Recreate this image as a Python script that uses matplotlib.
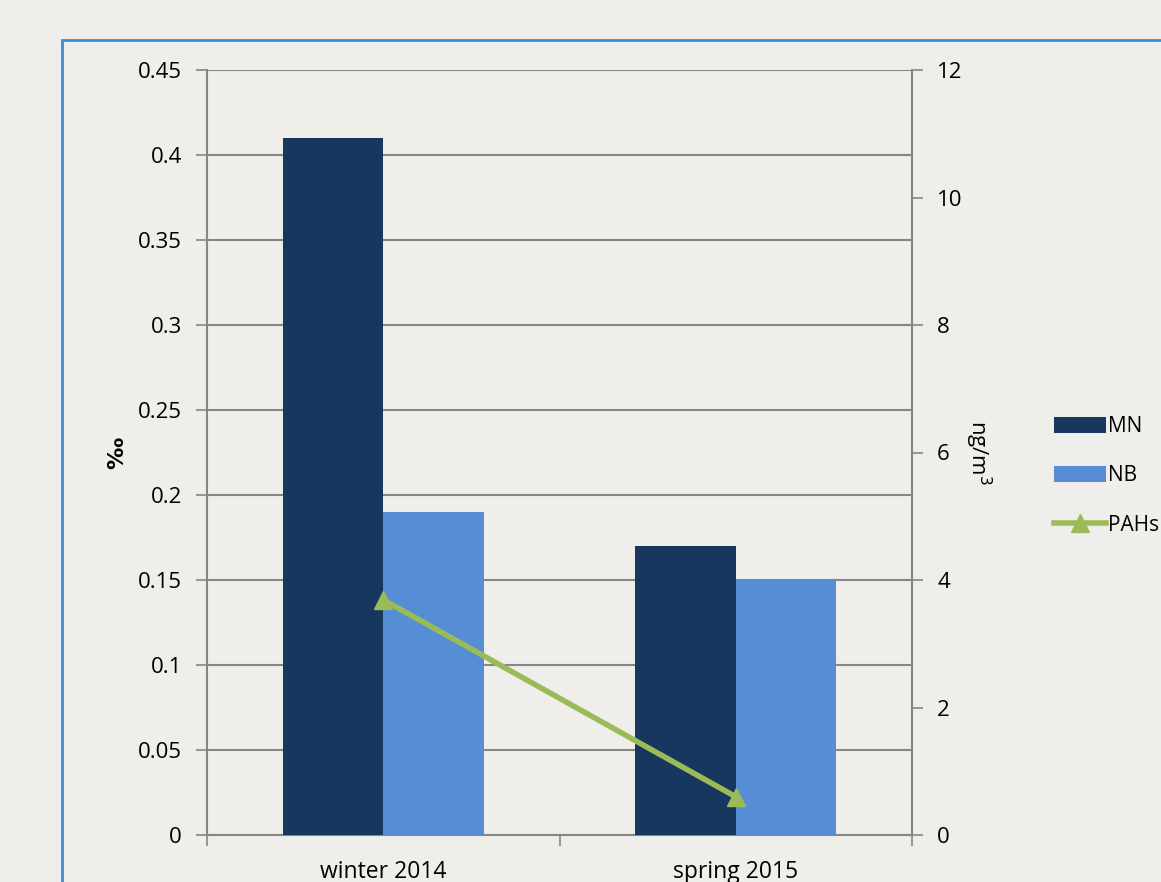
#!/usr/bin/env python3
"""Seasonal MN / NB ratios (permille) with PAHs concentration on a twin axis."""
import matplotlib
matplotlib.use("Agg")
import matplotlib.pyplot as plt
from matplotlib.patches import Rectangle
import numpy as np

seasons = ["winter 2014", "spring 2015"]
mn = [0.41, 0.17]
nb = [0.19, 0.15]
pahs = [3.69, 0.60]
left_ticks = [0, 0.05, 0.1, 0.15, 0.2, 0.25, 0.3, 0.35, 0.4, 0.45]
left_labels = ["0", "0.05", "0.1", "0.15", "0.2", "0.25", "0.3", "0.35", "0.4", "0.45"]
right_ticks = [0, 2, 4, 6, 8, 10, 12]

C_MN = "#17375E"
C_NB = "#558ED5"
C_PAH = "#9BBB59"
C_GRID = "#868686"

plt.rcParams["font.family"] = ["Open Sans", "DejaVu Sans"]

fig = plt.figure(figsize=(11.61, 8.82), dpi=100)
fig.patch.set_facecolor("#EFEEEA")

# blue frame of the chart object (runs off the right and bottom edges)
fig.patches.append(Rectangle((62 / 1161, -0.05), 1.2, 0.9546 + 0.05,
                             transform=fig.transFigure, fill=False,
                             edgecolor="#3A8FD4", lw=2.0, zorder=0))

ax = fig.add_axes([207 / 1161, 1 - 835 / 882, 705 / 1161, 765 / 882])
ax.patch.set_alpha(0)

x = np.arange(len(seasons))
w = 0.285
ax.bar(x - w / 2, mn, w, color=C_MN, label="MN", zorder=3)
ax.bar(x + w / 2, nb, w, color=C_NB, label="NB", zorder=3)

ax.set_xlim(-0.5, 1.5)
ax.set_ylim(0, 0.45)
ax.set_yticks(left_ticks)
ax.set_yticklabels(left_labels)
ax.yaxis.grid(True, color=C_GRID, lw=1.5, zorder=1)
ax.set_axisbelow(True)

ax.set_xticks([-0.5, 0.5, 1.5])
ax.set_xticklabels([])
ax.set_xticks(x, minor=True)
ax.set_xticklabels(seasons, minor=True)
ax.tick_params(axis="x", which="minor", length=0, pad=18, labelsize=16.5)
ax.tick_params(axis="x", which="major", length=8, width=1.2, color=C_GRID)
ax.tick_params(axis="y", length=8, width=1.2, color=C_GRID, labelsize=16, pad=10)
for s in ["left", "bottom", "right"]:
    ax.spines[s].set_color(C_GRID)
    ax.spines[s].set_linewidth(1.5)
ax.spines["top"].set_visible(False)
ax.set_ylabel("‰", fontsize=16, fontweight="bold", labelpad=8,
              family=["DejaVu Sans"])

ax2 = ax.twinx()
ax2.plot(x, pahs, color=C_PAH, lw=4, marker="^", ms=13, label="PAHs", zorder=4)
ax2.set_ylim(0, 12)
ax2.set_yticks(right_ticks)
ax2.tick_params(axis="y", length=8, width=1.2, color=C_GRID, labelsize=16, pad=10)
for s in ["left", "bottom", "right", "top"]:
    ax2.spines[s].set_visible(False)
ax2.set_ylabel("ng/m$^3$", fontsize=16, rotation=270, labelpad=22)

h1, l1 = ax.get_legend_handles_labels()
h2, l2 = ax2.get_legend_handles_labels()
fig.legend(h1 + h2, l1 + l2, loc="upper left", bbox_to_anchor=(1046 / 1161, 1 - 408 / 882),
           frameon=False, fontsize=15, handlelength=2.5, handleheight=0.8,
           labelspacing=1.35, handletextpad=0.1, borderaxespad=0)

fig.savefig("out.png", dpi=100, facecolor=fig.get_facecolor())
